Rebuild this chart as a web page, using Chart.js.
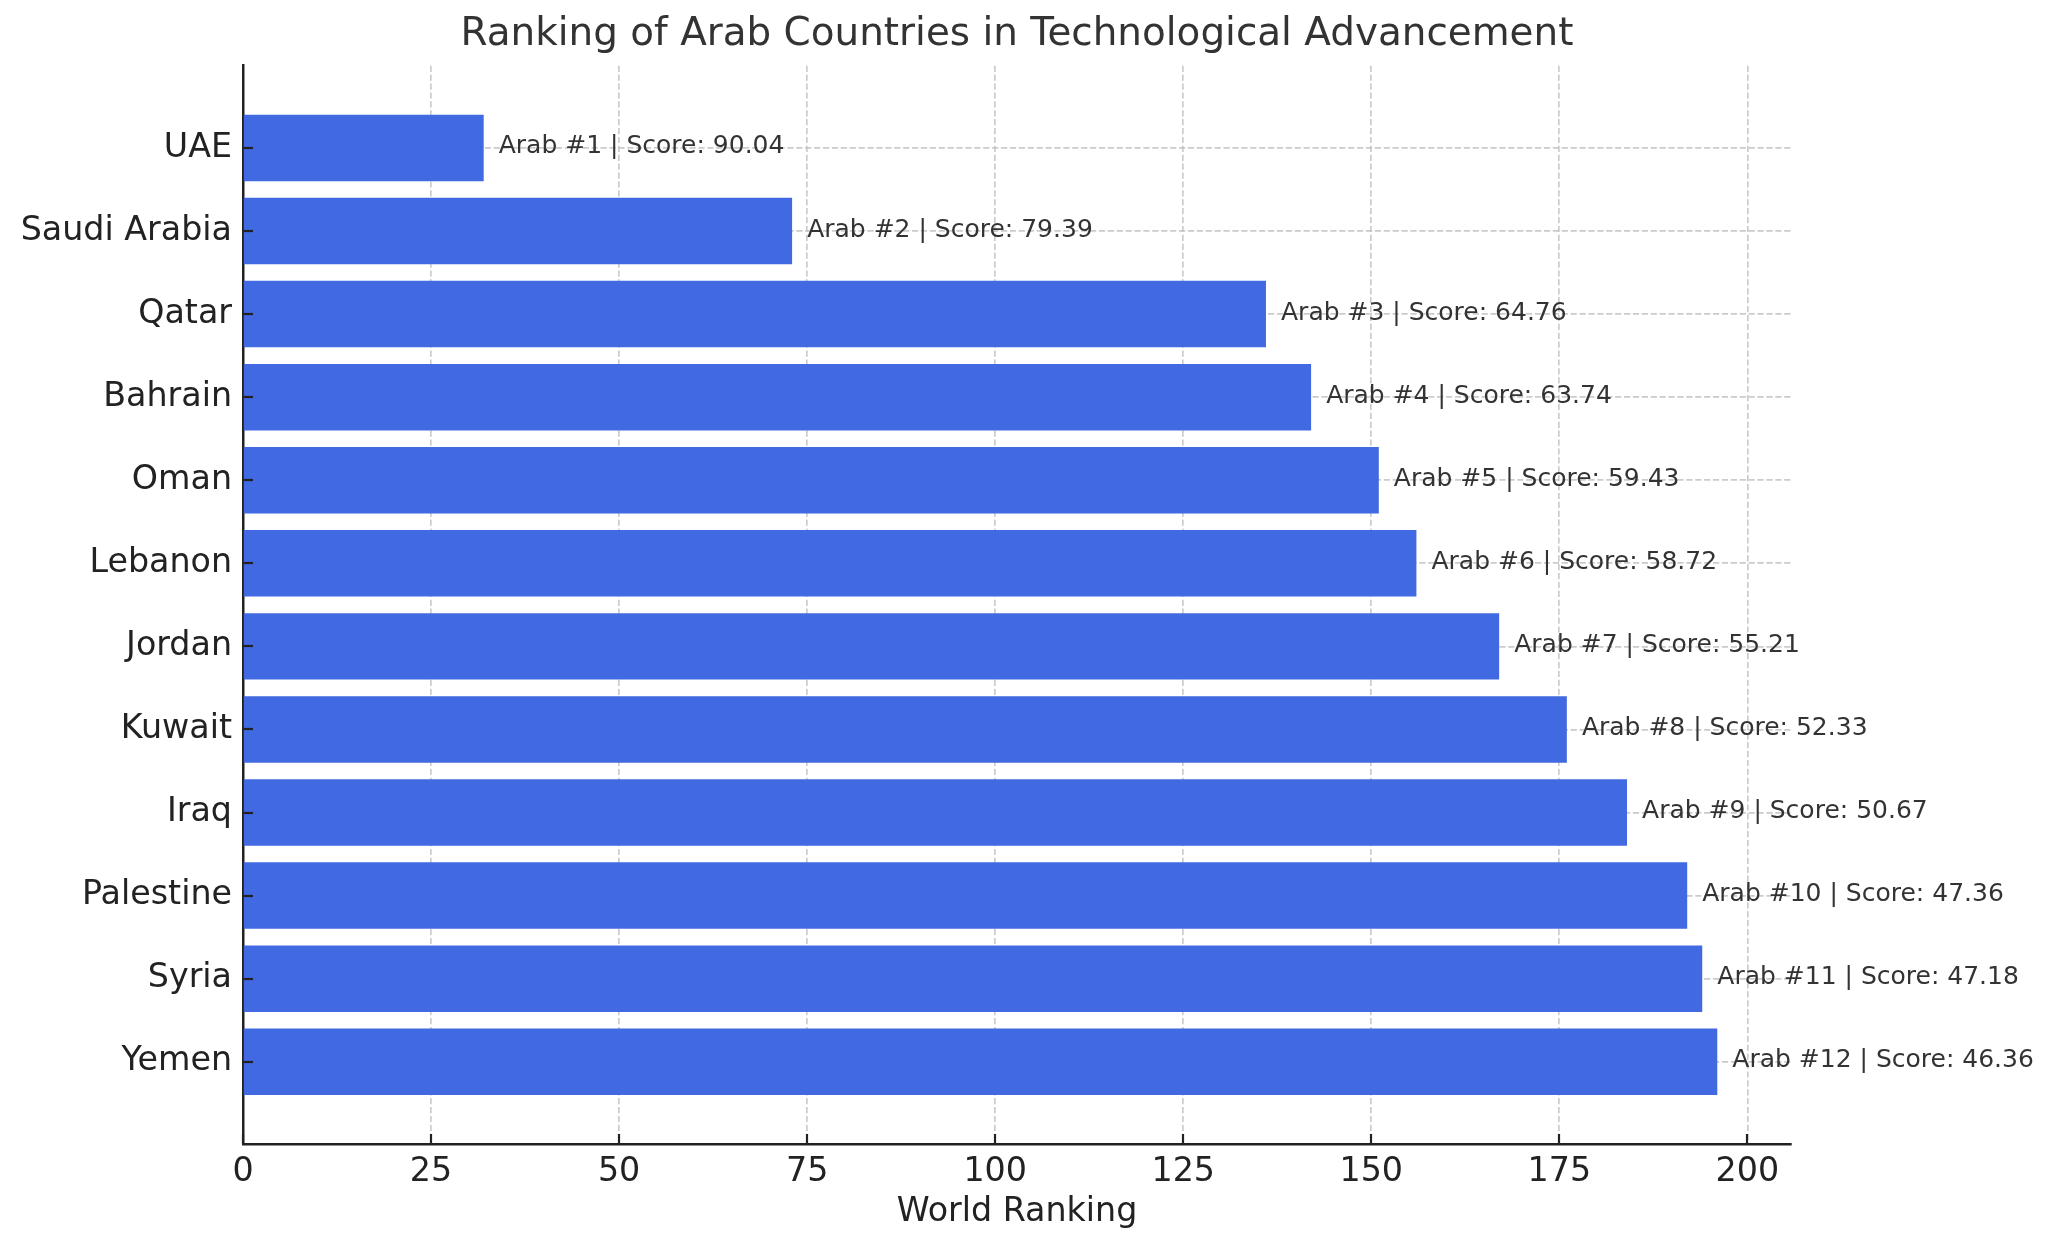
<!DOCTYPE html>
<html>
<head>
<meta charset="utf-8">
<script src="https://cdn.jsdelivr.net/npm/chart.js@4/dist/chart.umd.min.js"></script>
<style>
  html, body { margin: 0; padding: 0; background: #ffffff; }
  canvas { display: block; }
</style>
</head>
<body>
<canvas id="c" width="2054" height="1251"></canvas>
<script>
// ---- data ----
const countries = ["UAE", "Saudi Arabia", "Qatar", "Bahrain", "Oman", "Lebanon", "Jordan", "Kuwait", "Iraq", "Palestine", "Syria", "Yemen"];
const worldRankings = [32, 73, 136, 142, 151, 156, 167, 176, 184, 192, 194, 196];
const scores = [90.04, 79.39, 64.76, 63.74, 59.43, 58.72, 55.21, 52.33, 50.67, 47.36, 47.18, 46.36];
const arabRanks = [1, 2, 3, 4, 5, 6, 7, 8, 9, 10, 11, 12];
const xTickValues = [0, 25, 50, 75, 100, 125, 150, 175, 200];
const chartTitle = "Ranking of Arab Countries in Technological Advancement";
const xAxisTitle = "World Ranking";

const FONT = "'DejaVu Sans', 'Liberation Sans', sans-serif";
const GRID_COLOR = "rgba(190,190,190,0.8)";
const AXIS_COLOR = "#222222";

const points = countries.map((c, i) => ({ x: worldRankings[i], y: i }));

const inwardTicks = {
  id: "inwardTicks",
  afterDraw(chart) {
    const ctx = chart.ctx;
    const xs = chart.scales.x, ys = chart.scales.y;
    const area = chart.chartArea;
    ctx.save();
    ctx.strokeStyle = AXIS_COLOR;
    ctx.lineWidth = 2.2;
    xs.ticks.forEach(t => {
      const px = Math.round(xs.getPixelForValue(t.value));
      ctx.beginPath();
      ctx.moveTo(px, area.bottom);
      ctx.lineTo(px, area.bottom - 10);
      ctx.stroke();
    });
    ys.ticks.forEach(t => {
      const py = Math.round(ys.getPixelForValue(t.value));
      ctx.beginPath();
      ctx.moveTo(area.left, py);
      ctx.lineTo(area.left + 10, py);
      ctx.stroke();
    });
    ctx.restore();
  }
};

const barLabels = {
  id: "barLabels",
  afterDraw(chart) {
    const ctx = chart.ctx;
    const xs = chart.scales.x, ys = chart.scales.y;
    ctx.save();
    ctx.font = "25px " + FONT;
    ctx.fillStyle = "#333333";
    ctx.textAlign = "left";
    ctx.textBaseline = "middle";
    countries.forEach((c, i) => {
      const px = xs.getPixelForValue(worldRankings[i] + 2);
      const py = ys.getPixelForValue(i);
      ctx.fillText("Arab #" + arabRanks[i] + " | Score: " + scores[i].toFixed(2), px, py - 1);
    });
    ctx.restore();
  }
};

new Chart(document.getElementById("c"), {
  type: "bar",
  data: {
    datasets: [{
      data: points,
      backgroundColor: "#4169E1",
      borderWidth: 0,
      barPercentage: 0.8,
      categoryPercentage: 1.0
    }]
  },
  options: {
    indexAxis: "y",
    responsive: false,
    animation: false,
    devicePixelRatio: 1,
    layout: { padding: { left: 0, right: 263, top: 0, bottom: 0 } },
    plugins: {
      legend: { display: false },
      tooltip: { enabled: false },
      title: {
        display: true,
        fullSize: false,
        text: chartTitle,
        color: "#333333",
        font: { family: FONT, size: 38.9, weight: "normal", lineHeight: 1.2 },
        padding: { top: 12, bottom: 7 }
      }
    },
    scales: {
      x: {
        type: "linear",
        position: "bottom",
        min: 0,
        max: 205.8,
        offset: false,
        z: 1,
        afterBuildTicks: s => { s.ticks = xTickValues.map(v => ({ value: v })); },
        afterFit: s => { s.height = 107; },
        ticks: {
          color: AXIS_COLOR,
          font: { family: FONT, size: 33.3 },
          padding: 8,
          autoSkip: false,
          maxRotation: 0
        },
        grid: {
          color: GRID_COLOR,
          lineWidth: 1.67,
          drawTicks: false,
          offset: false
        },
        border: { display: true, color: AXIS_COLOR, width: 2.5, dash: [6.2, 2.7] },
        title: {
          display: true,
          text: xAxisTitle,
          color: AXIS_COLOR,
          font: { family: FONT, size: 33.3, lineHeight: 1.2 },
          padding: { top: 0, bottom: 19 }
        }
      },
      y: {
        type: "linear",
        position: "left",
        reverse: true,
        min: -0.99,
        max: 11.99,
        offset: false,
        z: 1,
        afterBuildTicks: s => { s.ticks = countries.map((c, i) => ({ value: i })); },
        afterFit: s => { s.width = 243; },
        ticks: {
          color: AXIS_COLOR,
          font: { family: FONT, size: 33.3 },
          padding: 11,
          autoSkip: false,
          callback: v => countries[v]
        },
        grid: {
          color: GRID_COLOR,
          lineWidth: 1.67,
          drawTicks: false,
          offset: false
        },
        border: { display: true, color: AXIS_COLOR, width: 2.5, dash: [6.2, 2.7] }
      }
    }
  },
  plugins: [inwardTicks, barLabels]
});
</script>
</body>
</html>
